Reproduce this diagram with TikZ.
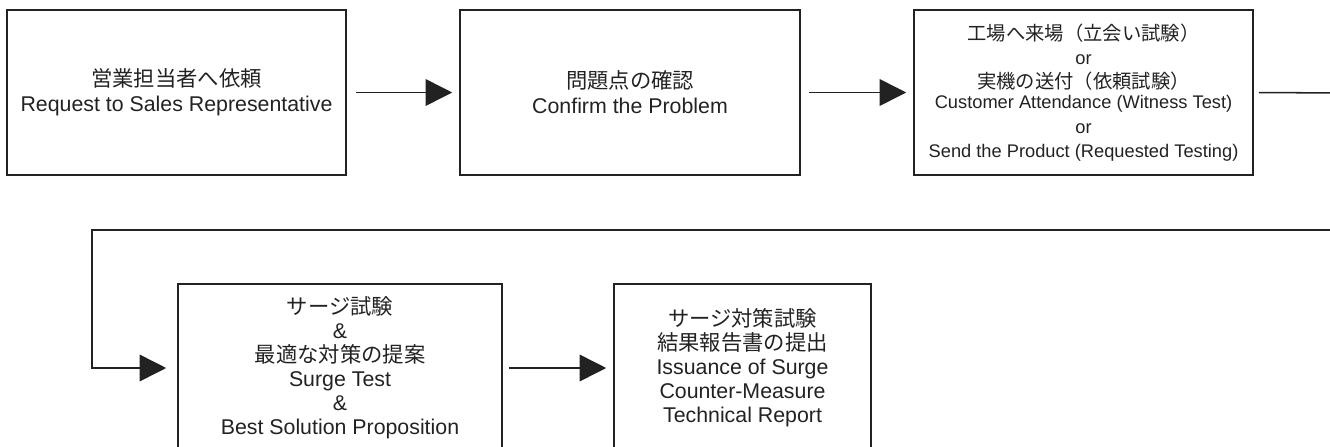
\documentclass[tikz,border=0pt]{standalone}
\usepackage{fontspec}
\setmainfont{Liberation Sans}
\newfontfamily\jp{Noto Sans CJK JP}
\usetikzlibrary{arrows.meta}
\definecolor{ink}{HTML}{222222}
\begin{document}
\begin{tikzpicture}[x=0.75pt,y=-0.75pt,
  box/.style={draw=ink,line width=1.15pt,rectangle,inner sep=0pt,align=center,text=ink,
    font=\fontsize{16}{18}\selectfont},
  conn/.style={draw=ink,line width=1.15pt,-{Triangle[length=20pt,width=20pt]}}]
\useasboundingbox (0,0) rectangle (1330,446);
\clip (0,0) rectangle (1330,446);
\node[box,minimum width=254.25pt,minimum height=123.75pt] (b1) at (176.5,92.5)
  {{\jp 営業担当者へ依頼}\\[0.7pt]Request to Sales Representative};
\node[box,minimum width=255pt,minimum height=123.75pt] (b2) at (630,92.5)
  {{\jp 問題点の確認}\\[0.7pt]Confirm the Problem};
\node[box,minimum width=254.25pt,minimum height=123.75pt] (b3) at (1083.5,92.5)
  {{\jp\fontsize{14.5}{18}\selectfont 工場へ来場（立会い試験）}\\
   {\fontsize{13.7}{18}\selectfont or}\\
   {\jp\fontsize{14.5}{18}\selectfont 実機の送付（依頼試験）}\\[-3pt]
   {\fontsize{13.7}{18}\selectfont Customer Attendance (Witness Test)}\\[1pt]
   {\fontsize{13.7}{18}\selectfont or}\\
   {\fontsize{13.7}{18}\selectfont Send the Product (Requested Testing)}};
\node[box,minimum width=243pt,minimum height=126pt] (b4) at (340,368)
  {{\jp サージ試験}\\\&\\{\jp 最適な対策の提案}\\Surge Test\\\&\\Best Solution Proposition};
\node[box,minimum width=192.75pt,minimum height=126pt] (b5) at (742.5,368)
  {{\jp サージ対策試験}\\{\jp 結果報告書の提出}\\Issuance of Surge\\Counter-Measure\\Technical Report};
\coordinate (c1) at (1345,93);
\coordinate (c2) at (1345,230);
\coordinate (c3) at (92,230);
\draw[conn,shorten <=6.75pt,shorten >=5.25pt] (b1) -- (b2);
\draw[conn,shorten <=6pt,shorten >=5.25pt] (b2) -- (b3);
\draw[conn,shorten <=3.75pt,shorten >=8.25pt] (b3.east) -- (c1) -- (c2) -- (c3) |- (b4.west);
\draw[conn,shorten <=4.5pt,shorten >=5.25pt] (b4) -- (b5);
\end{tikzpicture}
\end{document}
